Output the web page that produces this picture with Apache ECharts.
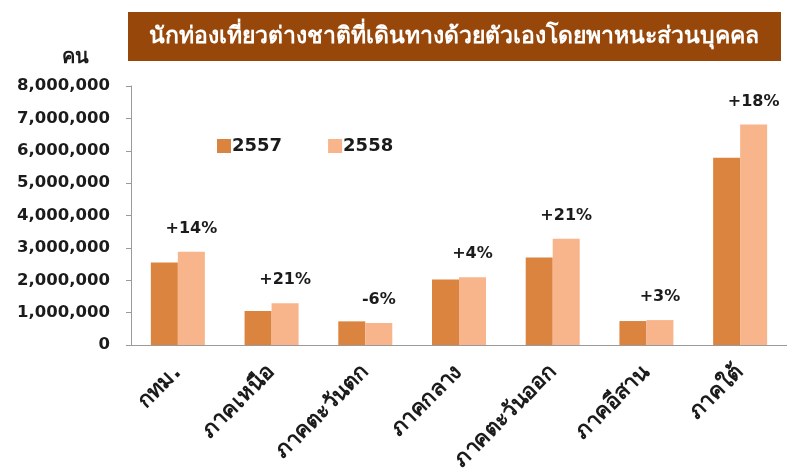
<!DOCTYPE html>
<html>
<head>
<meta charset="utf-8">
<title>นักท่องเที่ยวต่างชาติ</title>
<script src="https://cdn.jsdelivr.net/npm/echarts@6/dist/echarts.min.js"></script>
<style>
    html, body { margin: 0; padding: 0; background: #fff; }
    #main { width: 787px; height: 470px; }
</style>
</head>
<body>
<div id="main"></div>
<script>
// ข้อมูล
var regions = ['กทม.', 'ภาคเหนือ', 'ภาคตะวันตก', 'ภาคกลาง', 'ภาคตะวันออก', 'ภาคอีสาน', 'ภาคใต้'];
var y2557 = [2550000, 1050000, 730000, 2020000, 2700000, 740000, 5780000];
var y2558 = [2880000, 1290000, 680000, 2090000, 3280000, 770000, 6810000];
var pctLabels = ['+14%', '+21%', '-6%', '+4%', '+21%', '+3%', '+18%'];
var titleText = 'นักท่องเที่ยวต่างชาติที่เดินทางด้วยตัวเองโดยพาหนะส่วนบุคคล';

var FONT = "Tahoma, 'DejaVu Sans', sans-serif";
var chart = echarts.init(document.getElementById('main'));

chart.setOption({
    animation: false,
    textStyle: { fontFamily: FONT },
    graphic: [{
        type: 'rect',
        shape: { x: 128, y: 12, width: 653, height: 49 },
        style: { fill: '#98470A' }
    }, {
        type: 'text',
        x: 454, y: 37,
        style: {
            text: titleText, fill: '#fff', font: 'bold 23px ' + FONT,
            align: 'center', verticalAlign: 'middle'
        }
    }, {
        type: 'text',
        x: 75, y: 58,
        style: {
            text: 'คน', fill: '#1b1b1b', font: 'bold 20px ' + FONT,
            align: 'center', verticalAlign: 'middle'
        }
    }],
    legend: {
        left: 217, top: 137, padding: 0,
        itemWidth: 14, itemHeight: 14, itemGap: 46,
        icon: 'rect',
        textStyle: { fontWeight: 'bold', fontSize: 18, color: '#1b1b1b', padding: [0, 0, 0, -4] },
        data: ['2557', '2558']
    },
    grid: { left: 131, right: 0, top: 86, bottom: 125, outerBoundsMode: 'none', containLabel: false },
    xAxis: {
        type: 'category',
        data: regions,
        axisLine: { lineStyle: { color: '#9a9a9a' } },
        axisTick: { length: 6, lineStyle: { color: '#9a9a9a' } },
        axisLabel: {
            rotate: 45, fontWeight: 'bold', fontSize: 22, color: '#1b1b1b',
            margin: 24, interval: 0
        }
    },
    yAxis: {
        type: 'value',
        min: 0, max: 8000000, interval: 1000000,
        splitLine: { show: false },
        axisLine: { show: true, lineStyle: { color: '#9a9a9a' } },
        axisTick: { show: true, length: 5, lineStyle: { color: '#9a9a9a' } },
        axisLabel: {
            fontWeight: 'bold', fontSize: 16.5, color: '#1b1b1b', margin: 21,
            formatter: function (v) { return v.toLocaleString('en-US'); }
        }
    },
    series: [{
        name: '2557', type: 'bar', data: y2557,
        barWidth: 27, barGap: 0,
        itemStyle: { color: '#DA843F' }
    }, {
        name: '2558', type: 'bar', data: y2558,
        barWidth: 27,
        itemStyle: { color: '#F8B48B' },
        label: {
            show: true, position: 'top', distance: 15,
            fontWeight: 'bold', fontSize: 16, color: '#1b1b1b',
            formatter: function (p) { return pctLabels[p.dataIndex]; }
        }
    }]
});
</script>
</body>
</html>
